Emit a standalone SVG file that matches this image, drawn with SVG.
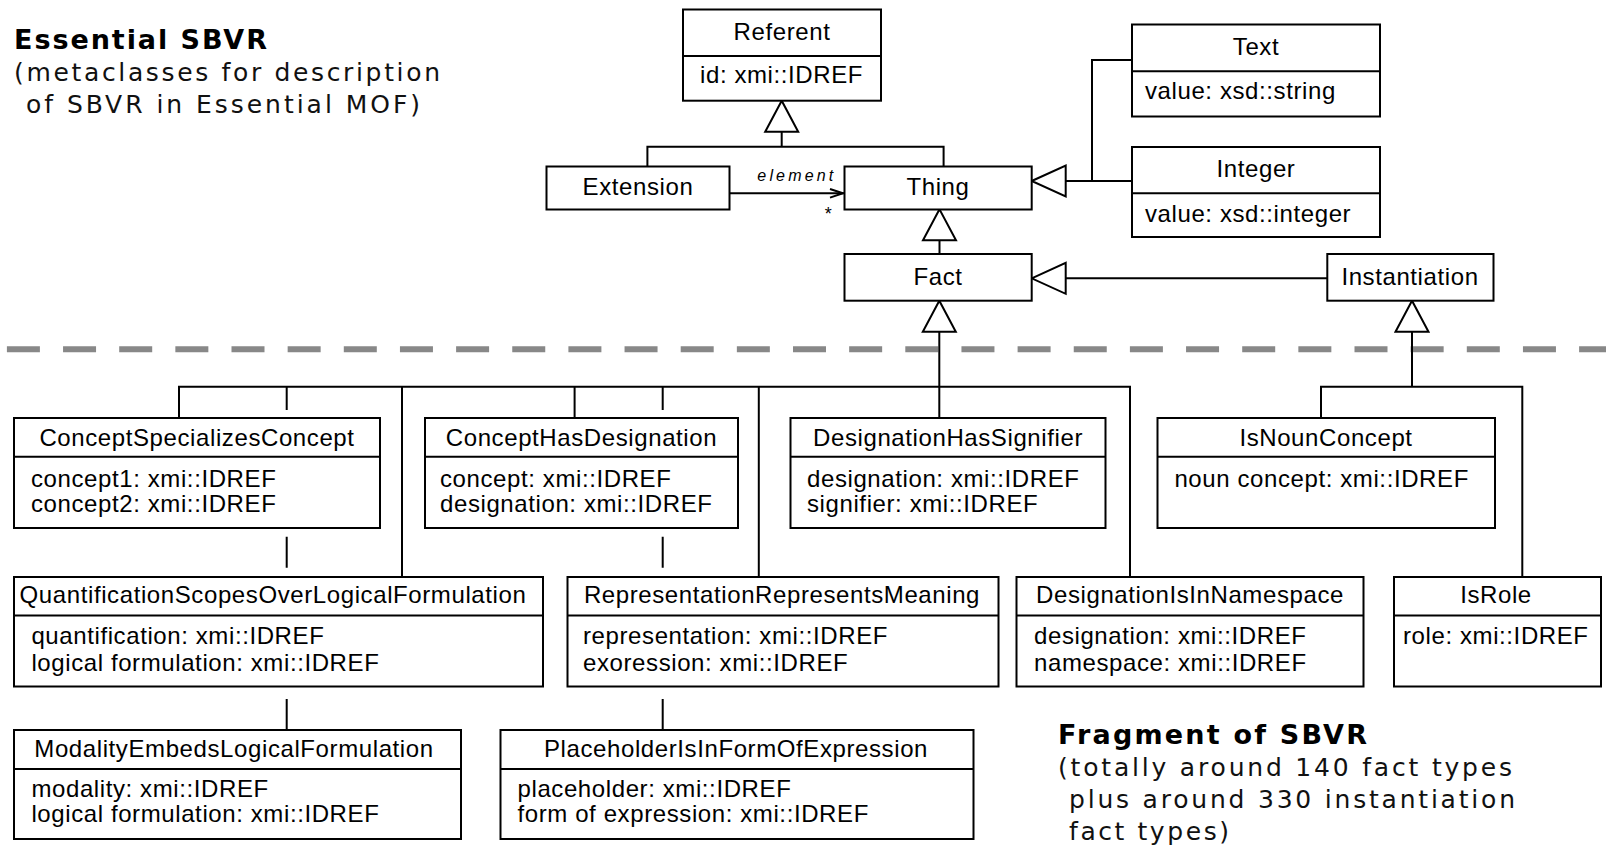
<svg xmlns="http://www.w3.org/2000/svg" width="1606" height="849" viewBox="0 0 1606 849">
  <style>
    .box { fill: #fff; stroke: #000; stroke-width: 2; }
    .div { stroke: #000; stroke-width: 2; }
    .conn { fill: none; stroke: #000; stroke-width: 2; }
    .gen { fill: #fff; stroke: #000; stroke-width: 2; stroke-linejoin: miter; }
    .sep { fill: none; stroke: #888; stroke-width: 6; stroke-dasharray: 33 23.15; }
    .t { font-family: "Liberation Sans", Arial, sans-serif; font-size: 24px; letter-spacing: 0.6px; fill: #000; }
    .c { text-anchor: middle; }
    .role { font-family: "Liberation Sans", Arial, sans-serif; font-size: 16px; font-style: italic; fill: #000; }
    .mult { font-family: "Liberation Sans", Arial, sans-serif; font-size: 18px; fill: #000; text-anchor: middle; }
    .h { font-family: "DejaVu Sans", Verdana, sans-serif; font-weight: bold; font-size: 27px; fill: #000; }
    .s { font-family: "DejaVu Sans", Verdana, sans-serif; font-size: 25px; fill: #111; }
  </style>
  <defs>
    <!-- hollow generalization triangle, apex at origin, pointing up -->
    <path id="gen-up" class="gen" d="M0,0 L-16.5,31 L16.5,31 Z"/>
    <!-- same triangle pointing left -->
    <path id="gen-left" class="gen" d="M0,0 L34,-15.5 L34,15.5 Z"/>
  </defs>
  <rect width="1606" height="849" fill="#fff"/>

  <!-- captions -->
  <g id="caption-essential">
    <text class="h" x="14" y="49" textLength="253" lengthAdjust="spacing">Essential SBVR</text>
    <text class="s" x="14" y="81" textLength="426" lengthAdjust="spacing">(metaclasses for description</text>
    <text class="s" x="26" y="113" textLength="394" lengthAdjust="spacing">of SBVR in Essential MOF)</text>
  </g>
  <g id="caption-fragment">
    <text class="h" x="1058" y="744" textLength="309" lengthAdjust="spacing">Fragment of SBVR</text>
    <text class="s" x="1058" y="776" textLength="454" lengthAdjust="spacing">(totally around 140 fact types</text>
    <text class="s" x="1069" y="808" textLength="446" lengthAdjust="spacing">plus around 330 instantiation</text>
    <text class="s" x="1069" y="840" textLength="160" lengthAdjust="spacing">fact types)</text>
  </g>

  <!-- separator between the essential metaclasses and the fact types -->
  <path class="sep" d="M6.9,349.3 H1606"/>

  <!-- connectors -->
  <g id="connectors">
    <!-- Extension, Thing specialize Referent -->
    <path class="conn" d="M781.7,131.7 V146.7 M647.4,166.5 V146.7 H943.6 V166.5"/>
    <use href="#gen-up" x="781.7" y="100.7"/>
    <!-- Fact specializes Thing -->
    <path class="conn" d="M939.5,240 V254"/>
    <use href="#gen-up" x="939.5" y="209.3"/>
    <!-- Text, Integer specialize Thing -->
    <path class="conn" d="M1065.7,181 H1132 M1092,181 V60 H1132"/>
    <use href="#gen-left" x="1031.7" y="181"/>
    <!-- Instantiation specializes Fact -->
    <path class="conn" d="M1065.7,278.3 H1327.3"/>
    <use href="#gen-left" x="1031.7" y="278.3"/>
    <!-- Extension element association -->
    <path class="conn" d="M729.5,193.3 H844.5"/>
    <path class="conn" stroke-width="1.5" d="M830,189 L843,193.3 L830,197.6"/>
    <text class="role" x="757.3" y="180.5" textLength="76" lengthAdjust="spacing">element</text>
    <text class="mult" x="828.3" y="220">*</text>

    <!-- fact types specialize Fact -->
    <path class="conn" d="M939.3,331.7 V418"/>
    <path class="conn" d="M179,418 V386.7 H1130 V577"/>
    <path class="conn" d="M286.7,386.7 V410 M286.7,536.7 V567.7 M286.7,699 V730"/>
    <path class="conn" d="M402,386.7 V577"/>
    <path class="conn" d="M574.6,386.7 V418"/>
    <path class="conn" d="M662.7,386.7 V410 M662.7,536.7 V567.7 M662.7,699 V730"/>
    <path class="conn" d="M758.8,386.7 V577"/>
    <use href="#gen-up" x="939.3" y="300.7"/>

    <!-- instantiation fact types specialize Instantiation -->
    <path class="conn" d="M1412,331.7 V386.7 M1321,418 V386.7 H1522.3 V577"/>
    <use href="#gen-up" x="1412" y="300.7"/>
  </g>

  <!-- essential metaclasses -->
  <g id="referent">
    <rect class="box" x="683" y="9.5" width="198" height="91.2"/>
    <line class="div" x1="683" y1="56" x2="881" y2="56"/>
    <text class="t c" x="782" y="40">Referent</text>
    <text class="t" x="700" y="82.7">id: xmi::IDREF</text>
  </g>
  <g id="extension">
    <rect class="box" x="546.5" y="166.5" width="183" height="43"/>
    <text class="t c" x="638" y="195">Extension</text>
  </g>
  <g id="thing">
    <rect class="box" x="844.5" y="166.5" width="187.2" height="43"/>
    <text class="t c" x="938" y="195">Thing</text>
  </g>
  <g id="fact">
    <rect class="box" x="844.5" y="254" width="187.2" height="46.7"/>
    <text class="t c" x="938" y="284.5">Fact</text>
  </g>
  <g id="text">
    <rect class="box" x="1132" y="24.5" width="248" height="92"/>
    <line class="div" x1="1132" y1="71.3" x2="1380" y2="71.3"/>
    <text class="t c" x="1256" y="55">Text</text>
    <text class="t" x="1145" y="99.3">value: xsd::string</text>
  </g>
  <g id="integer">
    <rect class="box" x="1132" y="147" width="248" height="90"/>
    <line class="div" x1="1132" y1="193.3" x2="1380" y2="193.3"/>
    <text class="t c" x="1256" y="177.3">Integer</text>
    <text class="t" x="1145" y="221.7">value: xsd::integer</text>
  </g>
  <g id="instantiation">
    <rect class="box" x="1327.3" y="254" width="166.2" height="46.7"/>
    <text class="t c" x="1410" y="285">Instantiation</text>
  </g>

  <!-- fact types, first row -->
  <g id="concept-specializes-concept">
    <rect class="box" x="14" y="418" width="366" height="110"/>
    <line class="div" x1="14" y1="456.7" x2="380" y2="456.7"/>
    <text class="t c" x="197" y="445.5">ConceptSpecializesConcept</text>
    <text class="t" x="31" y="487">concept1: xmi::IDREF</text>
    <text class="t" x="31" y="512">concept2: xmi::IDREF</text>
  </g>
  <g id="concept-has-designation">
    <rect class="box" x="425" y="418" width="313" height="110"/>
    <line class="div" x1="425" y1="456.7" x2="738" y2="456.7"/>
    <text class="t c" x="581.5" y="445.5">ConceptHasDesignation</text>
    <text class="t" x="440" y="487">concept: xmi::IDREF</text>
    <text class="t" x="440" y="512">designation: xmi::IDREF</text>
  </g>
  <g id="designation-has-signifier">
    <rect class="box" x="790.5" y="418" width="315" height="110"/>
    <line class="div" x1="790.5" y1="456.7" x2="1105.5" y2="456.7"/>
    <text class="t c" x="948" y="445.5">DesignationHasSignifier</text>
    <text class="t" x="807" y="487">designation: xmi::IDREF</text>
    <text class="t" x="807" y="512">signifier: xmi::IDREF</text>
  </g>
  <g id="is-noun-concept">
    <rect class="box" x="1157.5" y="418" width="337.5" height="110"/>
    <line class="div" x1="1157.5" y1="456.7" x2="1495" y2="456.7"/>
    <text class="t c" x="1326" y="445.5">IsNounConcept</text>
    <text class="t" x="1174.4" y="487">noun concept: xmi::IDREF</text>
  </g>

  <!-- fact types, second row -->
  <g id="quantification-scopes-over-logical-formulation">
    <rect class="box" x="14" y="577" width="529" height="109.5"/>
    <line class="div" x1="14" y1="615.5" x2="543" y2="615.5"/>
    <text class="t c" x="273" y="603">QuantificationScopesOverLogicalFormulation</text>
    <text class="t" x="31.4" y="643.5">quantification: xmi::IDREF</text>
    <text class="t" x="31.4" y="670.5">logical formulation: xmi::IDREF</text>
  </g>
  <g id="representation-represents-meaning">
    <rect class="box" x="567.5" y="577" width="431" height="109.5"/>
    <line class="div" x1="567.5" y1="615.5" x2="998.5" y2="615.5"/>
    <text class="t c" x="782" y="603">RepresentationRepresentsMeaning</text>
    <text class="t" x="583" y="643.5">representation: xmi::IDREF</text>
    <text class="t" x="583" y="670.5">exoression: xmi::IDREF</text>
  </g>
  <g id="designation-is-in-namespace">
    <rect class="box" x="1016.5" y="577" width="347" height="109.5"/>
    <line class="div" x1="1016.5" y1="615.5" x2="1363.5" y2="615.5"/>
    <text class="t c" x="1190" y="603">DesignationIsInNamespace</text>
    <text class="t" x="1034" y="643.5">designation: xmi::IDREF</text>
    <text class="t" x="1034" y="670.5">namespace: xmi::IDREF</text>
  </g>
  <g id="is-role">
    <rect class="box" x="1394" y="577" width="207" height="109.5"/>
    <line class="div" x1="1394" y1="615.5" x2="1601" y2="615.5"/>
    <text class="t c" x="1496" y="603">IsRole</text>
    <text class="t" x="1403" y="643.5">role: xmi::IDREF</text>
  </g>

  <!-- fact types, third row -->
  <g id="modality-embeds-logical-formulation">
    <rect class="box" x="14" y="730" width="447" height="109"/>
    <line class="div" x1="14" y1="769" x2="461" y2="769"/>
    <text class="t c" x="234" y="756.7">ModalityEmbedsLogicalFormulation</text>
    <text class="t" x="31.4" y="796.5">modality: xmi::IDREF</text>
    <text class="t" x="31.4" y="821.5">logical formulation: xmi::IDREF</text>
  </g>
  <g id="placeholder-is-in-form-of-expression">
    <rect class="box" x="500.5" y="730" width="473" height="109"/>
    <line class="div" x1="500.5" y1="769" x2="973.5" y2="769"/>
    <text class="t c" x="736" y="756.7">PlaceholderIsInFormOfExpression</text>
    <text class="t" x="517.5" y="796.5">placeholder: xmi::IDREF</text>
    <text class="t" x="517.5" y="821.5">form of expression: xmi::IDREF</text>
  </g>
</svg>
